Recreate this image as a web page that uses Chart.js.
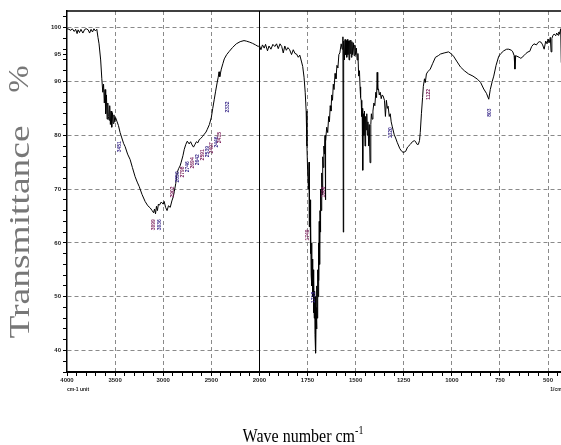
<!DOCTYPE html>
<html>
<head>
<meta charset="utf-8">
<script src="https://cdn.jsdelivr.net/npm/chart.js@4.4.1/dist/chart.umd.min.js"></script>
<style>
  body { margin: 0; background: #fff; }
  #wrap { position: relative; width: 561px; height: 445px; overflow: hidden; }
  #myChart { position: absolute; left: 0; top: 0; }
  .ttl { position: absolute; white-space: nowrap; font-family: "Liberation Serif", "Times New Roman", serif; }
  #ytitle { left: 19px; top: 232px; font-size: 30px; color: #777; transform: translate(-50%, -50%) rotate(-90deg) scaleX(1.25); }
  #ypct { left: 18px; top: 79px; font-size: 30px; color: #777; transform: translate(-50%, -50%) rotate(-90deg) scaleX(1.1); }
  #xtitle { left: 303px; top: 435px; font-size: 16px; color: #000; transform: translate(-50%, -50%) scaleY(1.15); }
  #xtitle sup { font-size: 10px; }
</style>
</head>
<body>
<div id="wrap">
  <canvas id="myChart" width="561" height="445"></canvas>
  <div class="ttl" id="ytitle">Transmittance</div>
  <div class="ttl" id="ypct">%</div>
  <div class="ttl" id="xtitle">Wave number cm<sup>-1</sup></div>
</div>
<script>
// spectrum (wave number cm-1, transmittance %)
var waveNumbers = [
  4000, 3980, 3960, 3945, 3925, 3910, 3895, 3885, 3870, 3855, 3835, 3815, 3800, 3780, 3765, 3750, 3735, 3720, 3705, 3690,
  3678, 3667, 3650, 3638, 3628, 3620, 3612, 3605, 3598, 3590, 3583, 3576, 3570, 3563, 3556, 3549, 3542, 3535, 3528, 3520,
  3512, 3503, 3495, 3479, 3465, 3448, 3430, 3412, 3396, 3370, 3344, 3320, 3292, 3270, 3250, 3220, 3188, 3160, 3135, 3115,
  3100, 3090, 3080, 3070, 3060, 3050, 3040, 3020, 3000, 2990, 2975, 2960, 2945, 2927, 2910, 2895, 2885, 2870, 2854, 2840,
  2825, 2813, 2795, 2781, 2765, 2750, 2730, 2715, 2700, 2685, 2670, 2655, 2640, 2625, 2610, 2590, 2573, 2555, 2542, 2520,
  2500, 2485, 2469, 2455, 2438, 2428, 2420, 2412, 2404, 2396, 2380, 2365, 2340, 2313, 2280, 2240, 2200, 2160, 2135, 2100,
  2073, 2040, 2012, 2000, 1992, 1984, 1975, 1968, 1958, 1950, 1940, 1930, 1920, 1911, 1902, 1893, 1884, 1876, 1868, 1860,
  1852, 1843, 1833, 1824, 1815, 1807, 1798, 1790, 1782, 1775, 1768, 1762, 1757, 1753, 1749, 1745, 1742, 1740, 1737, 1735,
  1733, 1731, 1729, 1727, 1725, 1723, 1721, 1719, 1717, 1715, 1713, 1711, 1709, 1707, 1705, 1703, 1701, 1699, 1697, 1695,
  1693, 1691, 1689, 1687, 1685, 1683, 1681, 1679, 1676, 1674, 1671, 1668, 1665, 1662, 1659, 1657, 1655, 1650, 1645, 1640,
  1636, 1632, 1628, 1624, 1620, 1616, 1612, 1607, 1602, 1597, 1592, 1587, 1582, 1575, 1570, 1566, 1564, 1562, 1558, 1555,
  1552, 1549, 1546, 1543, 1540, 1537, 1534, 1531, 1528, 1525, 1522, 1519, 1516, 1512, 1508, 1504, 1500, 1496, 1492, 1488,
  1484, 1480, 1477, 1474, 1471, 1468, 1466, 1463, 1460, 1457, 1454, 1451, 1448, 1445, 1442, 1439, 1436, 1432, 1429, 1425,
  1421, 1418, 1414, 1410, 1405, 1400, 1395, 1391, 1388, 1385, 1381, 1377, 1372, 1367, 1362, 1357, 1350, 1345, 1340, 1335,
  1331, 1325, 1320, 1315, 1310, 1300, 1290, 1284, 1270, 1260, 1252, 1240, 1230, 1216, 1205, 1195, 1190, 1180, 1174, 1168,
  1164, 1158, 1152, 1148, 1142, 1138, 1132, 1125, 1112, 1100, 1085, 1070, 1059, 1040, 1017, 1005, 991, 975, 955, 935,
  913, 890, 866, 850, 834, 820, 808, 800, 790, 782, 770, 756, 745, 730, 715, 704, 690, 683, 676, 672,
  668, 662, 650, 641, 625, 615, 604, 595, 585, 573, 560, 553, 545, 536, 528, 520, 512, 505, 500, 494,
  488, 484, 480, 474, 468, 460, 455, 448, 444, 440, 436, 434, 431
];
var transmittance = [
  99.8, 99.7, 99.5, 99.8, 99.3, 99.7, 98.9, 99.6, 99.1, 99.7, 99.0, 99.7, 99.8, 99.6, 99.0, 99.7, 99.2, 99.8, 99.4, 99.7,
  98.2, 97.0, 94.0, 90.5, 88.0, 89.5, 86.0, 88.5, 84.0, 87.5, 83.0, 86.0, 83.5, 82.8, 85.5, 82.0, 84.5, 81.5, 84.2, 82.2,
  83.8, 82.5, 83.3, 82.5, 81.8, 80.5, 79.5, 78.5, 77.9, 76.5, 75.5, 74.0, 72.3, 71.3, 70.5, 69.0, 67.7, 66.9, 66.5, 66.0,
  65.6, 66.3, 65.4, 66.8, 66.0, 67.2, 67.0, 67.6, 67.2, 67.7, 66.6, 66.0, 66.9, 66.6, 67.8, 68.6, 69.5, 71.0, 73.1, 73.8,
  74.3, 75.0, 76.2, 77.4, 78.3, 78.9, 78.4, 78.8, 78.2, 77.8, 78.3, 78.8, 78.6, 79.2, 79.4, 79.8, 80.2, 80.6, 81.1, 82.0,
  83.3, 85.0, 86.7, 88.2, 89.9, 90.8, 91.8, 90.9, 91.6, 92.3, 93.3, 94.2, 95.0, 95.6, 96.3, 97.0, 97.4, 97.6, 97.5, 97.3,
  97.1, 96.8, 96.5, 96.7, 95.9, 96.8, 96.2, 96.9, 95.7, 96.6, 96.0, 96.9, 96.5, 97.0, 96.1, 97.0, 96.5, 95.3, 96.6, 95.8,
  96.3, 95.9, 95.0, 95.9, 95.2, 95.1, 94.5, 94.9, 93.8, 92.8, 90.8, 88.0, 84.5, 78.0, 73.0, 70.0, 75.0, 63.0, 68.0, 58.0,
  64.0, 54.0, 60.0, 52.0, 57.0, 50.0, 55.0, 47.0, 53.0, 46.0, 51.0, 43.0, 50.0, 39.5, 48.0, 44.0, 52.0, 46.0, 55.0, 50.0,
  60.0, 53.0, 64.0, 56.0, 66.0, 62.0, 70.0, 66.0, 73.0, 69.0, 76.0, 74.0, 78.0, 76.5, 80.0, 68.0, 79.0, 81.5, 80.5, 83.5,
  82.5, 85.5, 84.5, 87.5, 86.5, 89.5, 88.5, 91.5, 90.5, 93.0, 92.5, 95.0, 95.3, 97.0, 96.0, 98.3, 62.0, 97.5, 94.0, 97.8,
  95.0, 97.6, 94.5, 97.8, 95.0, 97.5, 94.0, 97.6, 95.2, 97.7, 94.5, 97.4, 95.0, 97.2, 94.8, 96.8, 95.0, 96.2, 94.0, 95.2,
  91.0, 92.0, 89.0, 87.0, 86.5, 83.5, 85.0, 73.5, 84.0, 80.0, 84.5, 78.0, 83.5, 81.0, 84.0, 80.0, 82.5, 78.0, 82.0, 74.9,
  82.0, 84.0, 83.0, 84.5, 86.0, 85.5, 88.0, 87.0, 91.7, 88.5, 88.6, 87.5, 88.0, 86.8, 87.5, 87.3, 86.5, 83.5, 86.5, 85.0,
  85.4, 83.5, 84.0, 82.5, 81.7, 80.2, 79.3, 78.7, 77.5, 77.0, 76.8, 77.0, 77.8, 78.3, 78.8, 79.0, 78.9, 78.3, 78.3, 79.0,
  80.5, 84.0, 87.0, 89.1, 90.5, 89.8, 91.4, 91.8, 92.3, 93.3, 94.5, 94.8, 95.1, 95.3, 95.5, 95.2, 94.7, 93.8, 92.7, 92.0,
  91.4, 91.0, 90.4, 89.8, 88.6, 87.8, 86.7, 88.5, 90.0, 91.0, 93.0, 94.7, 95.2, 95.7, 96.0, 96.0, 95.8, 95.5, 94.8, 92.3,
  94.8, 94.7, 94.5, 94.3, 94.8, 95.2, 95.5, 95.6, 96.5, 97.0, 96.8, 97.2, 97.4, 97.3, 96.8, 96.0, 97.5, 97.0, 97.9, 97.2,
  98.2, 95.5, 98.0, 98.6, 98.8, 98.5, 99.0, 98.6, 99.2, 98.8, 99.5, 99.8, 93.5
];
var xTickLabels = [4000, 3500, 3000, 2500, 2000, 1750, 1500, 1250, 1000, 750, 500];
var yTickLabels = [100, 95, 90, 80, 70, 60, 50, 40];

// peak marks: wave number and the transmittance where the little label hangs
var peakWaves = [3451, 3099, 3036, 2902, 2850, 2798, 2746, 2694, 2642, 2591, 2539, 2497, 2446, 2415, 2332, 1749, 1718, 1666, 1320, 1122, 803];
var peakLabelAt = [78.9, 64.4, 64.4, 70.5, 73.3, 74.2, 75.2, 75.9, 76.5, 77.4, 78.0, 78.7, 79.8, 80.6, 86.3, 62.5, 50.9, 70.5, 81.5, 88.6, 85.0];

// the axis halves its scale at 2000 cm-1
function toAxis(wn) {
  return wn >= 2000 ? 4000 - wn : 2000 + (2000 - wn) * 2;
}

var points = waveNumbers.map(function (w, i) { return { x: toAxis(w), y: transmittance[i] }; });

var tinyFont = { family: 'Arial', size: 6, weight: 'bold' };

var decor = {
  id: 'decor',
  beforeDatasetsDraw: function (chart) {
    var ctx = chart.ctx, a = chart.chartArea;
    var xb = Math.round(chart.scales.x.getPixelForValue(toAxis(2000))) + 0.5;
    ctx.save();
    ctx.strokeStyle = '#000';
    ctx.lineWidth = 1;
    ctx.beginPath();
    ctx.moveTo(xb, a.top);
    ctx.lineTo(xb, a.bottom);
    ctx.stroke();
    ctx.restore();
  },
  afterDraw: function (chart) {
    var ctx = chart.ctx, a = chart.chartArea;
    var sx = chart.scales.x, sy = chart.scales.y;
    ctx.save();
    ctx.strokeStyle = '#000';
    ctx.lineWidth = 1.5;
    ctx.beginPath();
    ctx.moveTo(a.left, a.top);
    ctx.lineTo(a.right, a.top);
    ctx.stroke();
    ctx.fillStyle = '#222';
    ctx.font = 'bold 5px Arial';
    ctx.textAlign = 'center';
    ctx.fillText('cm-1 unit', 78, 391);
    ctx.fillText('1/cm', 556, 391);
    // peak labels, written downwards
    ctx.font = 'bold 5px Arial';
    ctx.textAlign = 'right';
    ctx.textBaseline = 'middle';
    peakWaves.forEach(function (w, i) {
      var px = sx.getPixelForValue(toAxis(w));
      var py = sy.getPixelForValue(peakLabelAt[i]);
      ctx.save();
      ctx.translate(px, py);
      ctx.rotate(-Math.PI / 2);
      ctx.fillStyle = i % 2 ? '#7a1e5a' : '#3a2a8a';
      ctx.fillText(String(w), 0, 0);
      ctx.restore();
    });
    ctx.restore();
  }
};

var g_principal = document.getElementById('myChart');

var myChart = new Chart(g_principal, {
  type: 'line',
  data: {
    datasets: [{
      label: 'Transmittance',
      data: points,
      borderColor: '#000',
      borderWidth: 1,
      pointRadius: 0,
      tension: 0
    }]
  },
  options: {
    responsive: false,
    animation: false,
    devicePixelRatio: 1,
    layout: { padding: { top: 11, right: 0, left: 0, bottom: 0 } },
    plugins: { legend: { display: false }, tooltip: { enabled: false } },
    scales: {
      x: {
        type: 'linear',
        min: 0,
        max: 5135,
        afterBuildTicks: function (axis) {
          var t = [];
          for (var u = 0; u <= 5100; u += 100) t.push({ value: u });
          axis.ticks = t;
        },
        afterFit: function (axis) { axis.height = 73; },
        ticks: {
          autoSkip: false,
          maxRotation: 0,
          padding: 1,
          color: '#222',
          font: tinyFont,
          callback: function (v) {
            var i = xTickLabels.findIndex(function (w) { return toAxis(w) === v; });
            return i >= 0 ? String(xTickLabels[i]) : '';
          }
        },
        grid: {
          color: function (c) {
            var v = c.tick ? c.tick.value : -1;
            return (v > 0 && v !== 2000 && v % 500 === 0) ? '#8a8a8a' : 'rgba(0,0,0,0)';
          },
          tickColor: '#000',
          tickLength: 4,
          lineWidth: 1
        },
        border: { display: true, color: '#000', width: 2, dash: [4, 3] }
      },
      y: {
        min: 36,
        max: 103.1,
        afterBuildTicks: function (axis) {
          var t = [];
          for (var v = 36; v <= 102; v += 2) t.push({ value: v });
          t.push({ value: 95 });
          t.sort(function (p, q) { return p.value - q.value; });
          axis.ticks = t;
        },
        afterFit: function (axis) { axis.width = 67; },
        ticks: {
          autoSkip: false,
          padding: 2,
          color: '#222',
          font: tinyFont,
          callback: function (v) { return yTickLabels.indexOf(v) >= 0 ? String(v) : ''; }
        },
        grid: {
          color: function (c) {
            var v = c.tick ? c.tick.value : -1;
            return (v >= 40 && v % 10 === 0) ? '#8a8a8a' : 'rgba(0,0,0,0)';
          },
          tickColor: '#000',
          tickLength: 4,
          lineWidth: 1
        },
        border: { display: true, color: '#000', width: 1.5, dash: [4, 3] }
      }
    }
  },
  plugins: [decor]
});
</script>
</body>
</html>
